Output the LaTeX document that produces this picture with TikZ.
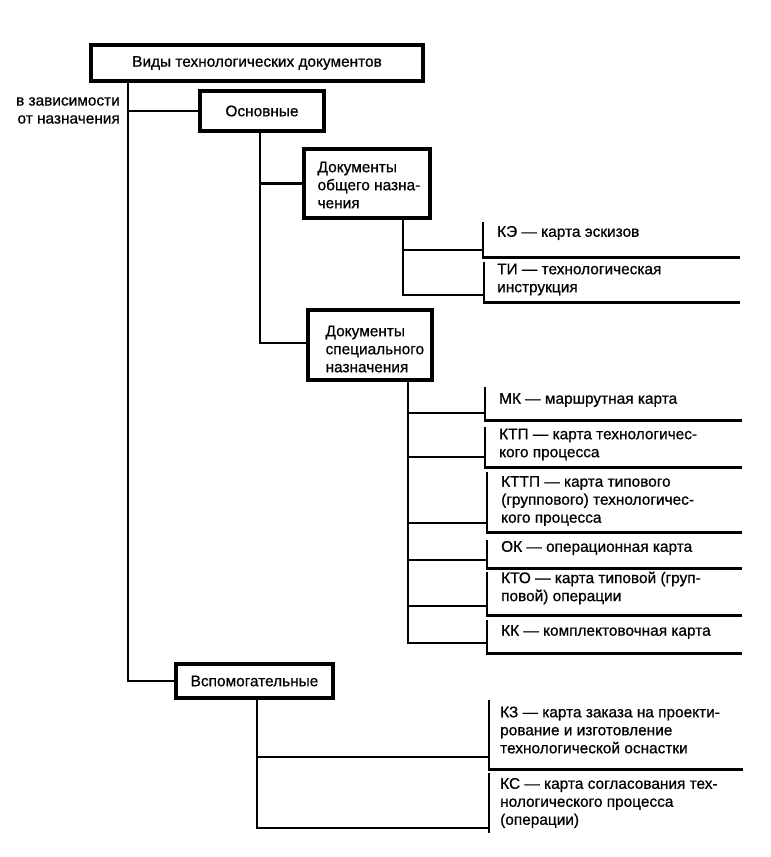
\documentclass[tikz,border=0pt]{standalone}
\usepackage{fontspec}
\setmainfont{Liberation Sans}[FakeBold=0.7]
\newcommand\fsz{\fontsize{15.4}{18}\selectfont}
\begin{document}
\begin{tikzpicture}[x=1pt,y=-1pt,
  box/.style={draw, line width=3.2pt, inner sep=0pt, font=\fsz},
  conn/.style={line width=2.1pt},
  leafln/.style={line width=2.6pt},
  frm/.style={inner sep=0pt, anchor=north west},
  lbl/.style={anchor=west, align=left, inner sep=0pt, font=\fsz},
]
\useasboundingbox (0,0) rectangle (771,857);
% boxes
\node[box, minimum width=332pt, minimum height=36pt] (top) at (257,63) {Виды технологических документов};
\node[box, minimum width=124pt, minimum height=40pt] (osn) at (262,111) {Основные};
\node[box, minimum width=126pt, minimum height=69pt] (dob) at (367,183.5) {};
\node[box, minimum width=124pt, minimum height=70pt] (dsp) at (370,345) {};
\node[box, minimum width=157pt, minimum height=34pt] (vsp) at (254.5,681) {Вспомогательные};
\node[lbl] (dobT) at ([xshift=15pt,yshift=-1.5pt]dob.west) {Документы\\общего назна-\\чения};
\node[lbl] (dspT) at ([xshift=19pt,yshift=-4pt]dsp.west) {Документы\\специального\\назначения};
\node[anchor=east, align=right, inner sep=0pt, font=\fsz] (dep) at (120,110.5) {в зависимости\\от назначения};
% leaf frames
\node[frm, minimum width=257pt, minimum height=35pt] (ke) at (483,222) {};
\node[frm, minimum width=256pt, minimum height=40pt] (ti) at (484,262) {};
\node[frm, minimum width=257pt, minimum height=33pt] (mk) at (485,387) {};
\node[frm, minimum width=257pt, minimum height=40pt] (ktp) at (485,427) {};
\node[frm, minimum width=255pt, minimum height=60pt] (kttp) at (487,472) {};
\node[frm, minimum width=255pt, minimum height=28pt] (ok) at (487,540) {};
\node[frm, minimum width=255pt, minimum height=43pt] (kto) at (487,572) {};
\node[frm, minimum width=255pt, minimum height=33pt] (kk) at (487,620) {};
\node[frm, minimum width=254pt, minimum height=69pt] (kz) at (489,700) {};
\node[frm, minimum width=254pt, minimum height=60pt] (ks) at (489,773) {};
\foreach \f in {ke,ti,mk,ktp,kttp,ok,kto,kk,kz}
  \draw[leafln] (\f.north west) -- (\f.south west) -- (\f.south east);
\draw[leafln] (ks.north west) -- (ks.south west);
% leaf texts
\node[lbl] (keT) at (497,233) {КЭ — карта эскизов};
\node[lbl] (tiT) at (497,279.5) {ТИ — технологическая\\инструкция};
\node[lbl] (mkT) at (499,400) {МК — маршрутная карта};
\node[lbl] (ktpT) at (499,444.5) {КТП — карта технологичес-\\кого процесса};
\node[lbl] (kttpT) at (501,501) {КТТП — карта типового\\(группового) технологичес-\\кого процесса};
\node[lbl] (okT) at (501,548) {ОК — операционная карта};
\node[lbl] (ktoT) at (501,588) {КТО — карта типовой (груп-\\повой) операции};
\node[lbl] (kkT) at (501,632) {КК — комплектовочная карта};
\node[lbl] (kzT) at (500,730) {КЗ — карта заказа на проекти-\\рование и изготовление\\технологической оснастки};
\node[lbl] (ksT) at (500,803) {КС — карта согласования тех-\\нологического процесса\\(операции)};
% trunks and branches
\coordinate (t0) at ([xshift=-129pt]top.south);
\draw[conn] (t0) |- (osn.west);
\draw[conn] (t0) |- (vsp.west);
\coordinate (o0) at ([xshift=-2pt]osn.south);
\draw[conn] (o0) |- (dob.west);
\draw[conn] (o0) |- ([yshift=2pt]dsp.west);
\coordinate (d1) at ([xshift=36pt]dob.south);
\draw[conn] (d1) |- ([yshift=7pt]ke.south west);
\draw[conn] (d1) |- ([yshift=7pt]ti.south west);
\coordinate (d2) at ([xshift=38pt]dsp.south);
\draw[conn] (d2) |- ([yshift=7pt]mk.south west);
\draw[conn] (d2) |- ([yshift=10pt]ktp.south west);
\draw[conn] (d2) |- ([yshift=9pt]kttp.south west);
\draw[conn] (d2) |- ([yshift=8pt]ok.south west);
\draw[conn] (d2) |- ([yshift=9pt]kto.south west);
\draw[conn] (d2) |- ([yshift=10pt]kk.south west);
\coordinate (v0) at ([xshift=2.5pt]vsp.south);
\draw[conn] (v0) |- ([yshift=12pt]kz.south west);
\draw[conn] (v0) |- ([yshift=5pt]ks.south west);
\end{tikzpicture}
\end{document}
